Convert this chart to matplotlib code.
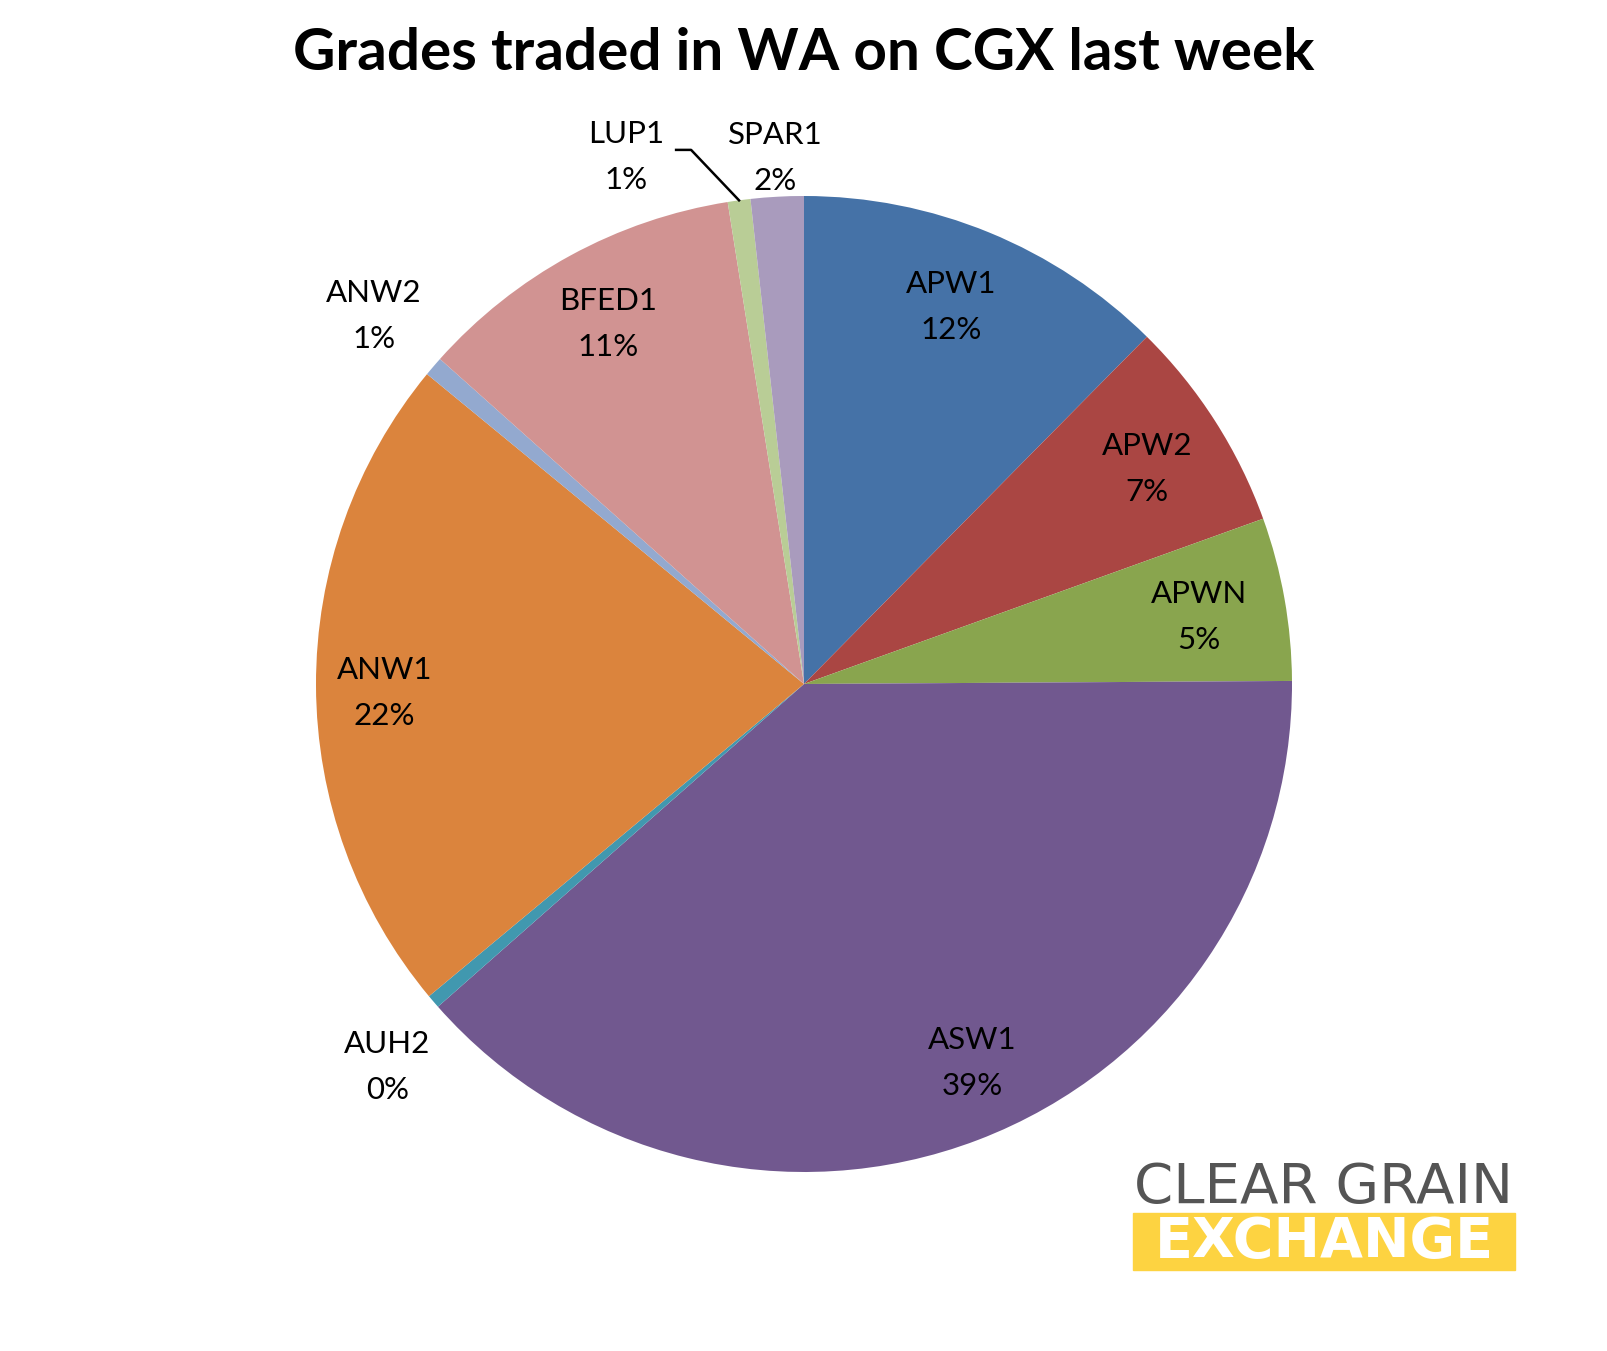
import numpy as np
import matplotlib
matplotlib.use("Agg")
import matplotlib.pyplot as plt
from matplotlib.patches import Rectangle

grades = ["APW1", "APW2", "APWN", "ASW1", "AUH2", "ANW1", "ANW2", "BFED1", "LUP1", "SPAR1"]
shares = [12.4, 7.1, 5.4, 38.6, 0.45, 22.0, 0.65, 10.9, 0.75, 1.75]
colors = ["#4572A7", "#AA4643", "#89A54E", "#71588F", "#4198AF",
          "#DB843D", "#93A9CF", "#D19392", "#B9CD96", "#A99BBD"]

# label placement: radius factor and angle nudge (deg) per slice
lab_r = [0.83, 0.83, 0.82, 0.85, 1.16, 0.86, 1.16, 0.84, 1.14, 1.08]
lab_da = [-1, 0.5, 0.5, -3, -2, -1, 0, 0, -11, 0]

W, H = 1608, 1351
fig = plt.figure(figsize=(W / 100, H / 100), dpi=100)
ax = fig.add_axes([0, 0, 1, 1])

cx, cy, R = 804, 667, 488
ax.pie(shares, colors=colors, startangle=90, counterclock=False,
       center=(cx, cy), radius=R, wedgeprops=dict(linewidth=0))
ax.set_xlim(0, W)
ax.set_ylim(0, H)
ax.set_aspect("auto")
ax.axis("off")

font = "Lato"
tot = sum(shares)
cum = np.cumsum([0] + shares[:-1])
for i, g in enumerate(grades):
    mid = (cum[i] + shares[i] / 2) / tot * 360
    a = np.radians(mid + lab_da[i])
    x = cx + lab_r[i] * R * np.sin(a)
    y = cy + lab_r[i] * R * np.cos(a)
    pct = "%d%%" % round(shares[i] / tot * 100)
    ax.text(x, y + 23, g, ha="center", va="center", fontsize=22.5, family=font)
    ax.text(x, y - 23, pct, ha="center", va="center", fontsize=22.5, family=font)
    if g == "LUP1":
        am = np.radians(mid)
        ex, ey = cx + R * np.sin(am), cy + R * np.cos(am)
        sx, sy = x + 50, y + 7
        ax.plot([sx, sx + 15, ex], [sy, sy, ey], color="black", lw=1.8)

fig.text(0.5, 1 - 53 / H, "Grades traded in WA on CGX last week", ha="center",
         va="center", fontsize=42, fontweight="bold", family=font)

# logo
fig.text(1324 / W, 1 - 1188 / H, "CLEAR GRAIN", ha="center", va="center",
         fontsize=40.5, family="DejaVu Sans", color="#555555")
fig.patches.append(Rectangle((1133 / W, 1 - 1270 / H), 382 / W, 57 / H,
                             transform=fig.transFigure, color="#FDD341", zorder=1))
fig.text(1324 / W, 1 - 1242 / H, "EXCHANGE", ha="center", va="center",
         fontsize=40, fontweight="bold", family="DejaVu Sans", color="white", zorder=2)

fig.savefig("out.png", dpi=100)
